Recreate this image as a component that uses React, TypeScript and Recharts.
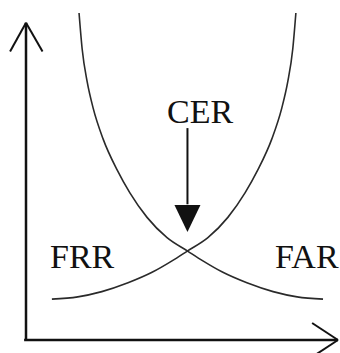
import { LineChart, Line, XAxis, YAxis, ReferenceLine, ReferenceDot } from 'recharts'

// curves (threshold 0-100, error rate 0-100)
const farX = [17.0, 18.0, 19.6, 21.5, 24.7, 29.2, 33.3, 38.8, 45.2, 51.8, 56.7, 63.1, 70.8, 79.2, 86.9, 95.2]
const farY = [100, 89.0, 79.0, 71.0, 61.5, 52.0, 45.0, 37.5, 31.3, 27.2, 24.2, 20.7, 17.5, 14.8, 13.2, 12.5]
const frrX = [8.3, 16.6, 24.3, 32.7, 40.4, 46.8, 51.7, 58.3, 64.7, 70.2, 74.3, 78.8, 82.0, 83.9, 85.5, 86.5]
const frrY = [12.5, 13.2, 14.8, 17.5, 20.7, 24.2, 27.2, 31.3, 37.5, 45.0, 52.0, 61.5, 71.0, 79.0, 89.0, 100]

// labels: [text, x, y] (left edge, baseline)
const labels: [string, number, number][] = [
  ['CER', 45.2, 66.4],
  ['FRR', 7.7, 22.0],
  ['FAR', 79.8, 22.0],
]

// crossover point marker: arrow from top to tip
const cerX = 51.75
const cerArrowTop = 64.8
const cerArrowBase = 41.5
const cerArrowTip = 33.0

const far = farX.map((x, i) => ({ x, y: farY[i] }))
const frr = frrX.map((x, i) => ({ x, y: frrY[i] }))

const INK = '#111'
const FONT = '"Liberation Serif", "Times New Roman", serif'

function TextMark({ cx, cy, text }: { cx?: number; cy?: number; text: string }) {
  return (
    <text x={cx} y={cy} fontFamily={FONT} fontSize={34} fill={INK} textAnchor="start">
      {text}
    </text>
  )
}

function ArrowHead({ cx, cy }: { cx?: number; cy?: number }) {
  if (cx == null || cy == null) return null
  const pts = `${cx - 13},${cy - 27} ${cx + 13},${cy - 27} ${cx},${cy}`
  return <polygon points={pts} fill={INK} />
}

export default function App() {
  return (
    <div style={{ position: 'absolute', left: 0, top: 0, background: '#fff' }}>
      <LineChart width={340} height={353} margin={{ top: 13, right: 2, bottom: 13, left: 26 }}>
        <XAxis type="number" dataKey="x" domain={[0, 100]} hide />
        <YAxis type="number" dataKey="y" domain={[0, 100]} hide />

        {/* axes with open arrowheads */}
        <ReferenceLine segment={[{ x: 0, y: 0 }, { x: 0, y: 97 }]} stroke={INK} strokeWidth={2.5} ifOverflow="visible" />
        <ReferenceLine segment={[{ x: -0.6, y: 0 }, { x: 100, y: 0 }]} stroke={INK} strokeWidth={2.5} ifOverflow="visible" />
        <ReferenceLine segment={[{ x: -5.1, y: 88.2 }, { x: 0, y: 97 }]} stroke={INK} strokeWidth={2} ifOverflow="visible" />
        <ReferenceLine segment={[{ x: 5.3, y: 88.2 }, { x: 0, y: 97 }]} stroke={INK} strokeWidth={2} ifOverflow="visible" />
        <ReferenceLine segment={[{ x: 91.7, y: 5.2 }, { x: 100, y: 0 }]} stroke={INK} strokeWidth={2} ifOverflow="visible" />
        <ReferenceLine segment={[{ x: 91.7, y: -5.2 }, { x: 100, y: 0 }]} stroke={INK} strokeWidth={2} ifOverflow="visible" />

        <Line data={far} dataKey="y" type="monotone" stroke="#2a2a2a" strokeWidth={1.6} dot={false} isAnimationActive={false} />
        <Line data={frr} dataKey="y" type="monotone" stroke="#2a2a2a" strokeWidth={1.6} dot={false} isAnimationActive={false} />

        <ReferenceLine segment={[{ x: cerX, y: cerArrowTop }, { x: cerX, y: cerArrowBase }]} stroke={INK} strokeWidth={2} />
        <ReferenceDot x={cerX} y={cerArrowTip} shape={(p: any) => <ArrowHead cx={p.cx} cy={p.cy} />} />

        {labels.map(([t, x, y]) => (
          <ReferenceDot key={t} x={x} y={y} shape={(p: any) => <TextMark cx={p.cx} cy={p.cy} text={t} />} />
        ))}
      </LineChart>
    </div>
  )
}
